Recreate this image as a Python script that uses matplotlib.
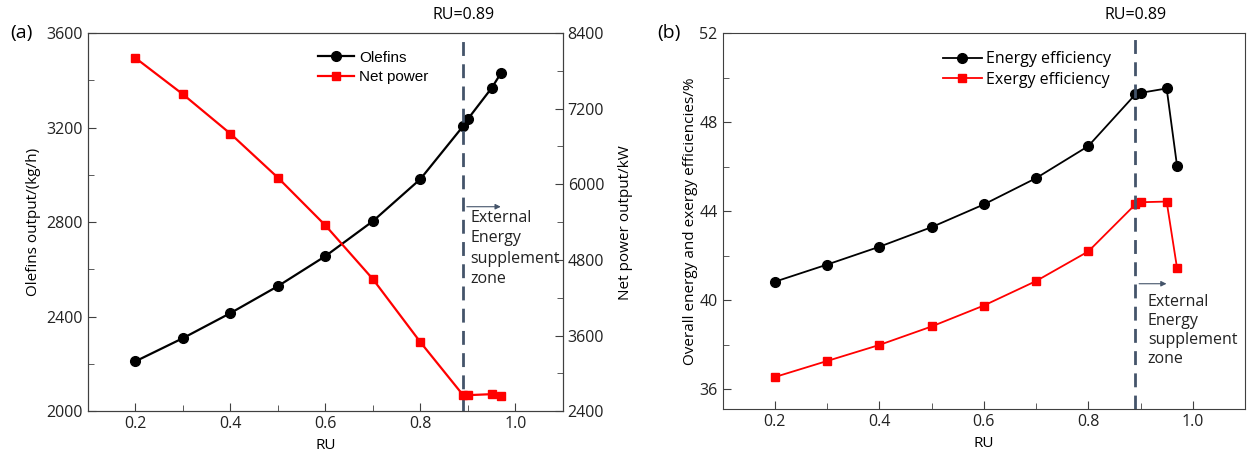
import matplotlib
matplotlib.use("Agg")
import matplotlib.pyplot as plt
from matplotlib.ticker import MultipleLocator
import matplotlib.transforms as mtransforms

plt.rcParams['font.family'] = ['Open Sans', 'DejaVu Sans']

ru = [0.2, 0.3, 0.4, 0.5, 0.6, 0.7, 0.8, 0.89, 0.9, 0.95, 0.97]
olefins = [2211, 2309, 2415, 2529, 2656, 2804, 2982, 3206, 3236, 3367, 3431]
net_power = [8003, 7427, 6802, 6104, 5347, 4495, 3495, 2654, 2654, 2670, 2643]
energy_eff = [40.83, 41.60, 42.40, 43.28, 44.30, 45.48, 46.92, 49.24, 49.31, 49.51, 46.02]
exergy_eff = [36.55, 37.27, 37.99, 38.82, 39.76, 40.86, 42.19, 44.30, 44.40, 44.43, 41.43]
ru_line = 0.89
zone_text = "External\nEnergy\nsupplement\nzone"

spine_c = '#404040'
dash_c = '#44546A'

fig = plt.figure(figsize=(12.48, 4.62), dpi=100)
ax1 = fig.add_axes([0.0705, 0.110, 0.3805, 0.8186])
ax2 = ax1.twinx()
ax3 = fig.add_axes([0.579, 0.114, 0.4186, 0.8146])


def style(ax):
    for s in ax.spines.values():
        s.set_color(spine_c)
    ax.tick_params(which='both', direction='in', colors=spine_c, labelcolor='#222222',
                   labelsize=11.5)
    ax.tick_params(which='major', length=6)
    ax.tick_params(which='minor', length=4)


# ---- panel (a)
ax1.plot(ru, olefins, color='black', lw=1.6, marker='o', ms=7, label='Olefins')
ax1.set_xlim(0.1, 1.1)
ax1.set_ylim(2000, 3600)
ax1.xaxis.set_major_locator(MultipleLocator(0.2))
ax1.xaxis.set_minor_locator(MultipleLocator(0.1))
ax1.yaxis.set_major_locator(MultipleLocator(400))
ax1.yaxis.set_minor_locator(MultipleLocator(200))
ax1.set_xlabel('RU', fontsize=11)
ax1.set_ylabel('Olefins output/(kg/h)', fontsize=11)

ax2.plot(ru, net_power, color='#FF0000', lw=1.6, marker='s', ms=6, label='Net power')
ax2.set_ylim(2400, 8400)
ax2.yaxis.set_major_locator(MultipleLocator(1200))
ax2.yaxis.set_minor_locator(MultipleLocator(600))
ax2.set_ylabel('Net power output/kW', fontsize=11, labelpad=10)
style(ax1)
style(ax2)

ax1.axvline(ru_line, color=dash_c, ls=(0, (5, 3)), lw=2, zorder=5)
trans1 = mtransforms.blended_transform_factory(ax1.transData, ax1.transAxes)
ax1.text(ru_line, 1.027, 'RU=0.89', transform=trans1, ha='center', va='bottom', fontsize=11.5)
ax1.annotate('', xy=(0.975, 2865), xytext=(0.892, 2865),
             arrowprops=dict(arrowstyle='-|>', color=dash_c, lw=0.8, mutation_scale=8))
ax1.text(0.905, 2850, zone_text, ha='left', va='top', fontsize=11.5, linespacing=1.35,
         color='#222222')

h1, l1 = ax1.get_legend_handles_labels()
h2, l2 = ax2.get_legend_handles_labels()
ax1.legend(h1 + h2, l1 + l2, loc='upper left', bbox_to_anchor=(0.455, 0.99), frameon=False,
           prop={'family': 'Liberation Sans', 'size': 11}, handlelength=2.4,
           handletextpad=0.3, labelspacing=0.35)
fig.text(10 / 1248, 1 - 33 / 462, '(a)', fontsize=14, va='center', ha='left')

# ---- panel (b)
ax3.plot(ru, energy_eff, color='black', lw=1.3, marker='o', ms=7, label='Energy efficiency')
ax3.plot(ru, exergy_eff, color='#FF0000', lw=1.3, marker='s', ms=6, label='Exergy efficiency')
ax3.set_xlim(0.1, 1.1)
ax3.set_ylim(35.1, 52)
ax3.xaxis.set_major_locator(MultipleLocator(0.2))
ax3.xaxis.set_minor_locator(MultipleLocator(0.1))
ax3.yaxis.set_major_locator(MultipleLocator(4))
ax3.yaxis.set_minor_locator(MultipleLocator(2))
ax3.set_xlabel('RU', fontsize=11)
ax3.set_ylabel('Overall energy and exergy efficiencies/%', fontsize=11, labelpad=1)
style(ax3)

ax3.axvline(ru_line, color=dash_c, ls=(0, (5, 3)), lw=2, zorder=5)
trans3 = mtransforms.blended_transform_factory(ax3.transData, ax3.transAxes)
ax3.text(ru_line, 1.027, 'RU=0.89', transform=trans3, ha='center', va='bottom', fontsize=11.5)
ax3.annotate('', xy=(0.955, 40.74), xytext=(0.892, 40.74),
             arrowprops=dict(arrowstyle='-|>', color=dash_c, lw=0.8, mutation_scale=8))
ax3.text(0.914, 40.3, zone_text, ha='left', va='top', fontsize=11.5, linespacing=1.25,
         color='#222222')
ax3.legend(loc='upper left', bbox_to_anchor=(0.395, 0.99), frameon=False, fontsize=11.5,
           handlelength=2.4, handletextpad=0.3, labelspacing=0.3)
fig.text(657 / 1248, 1 - 33 / 462, '(b)', fontsize=14, va='center', ha='left')

fig.savefig('out.png', dpi=100)
